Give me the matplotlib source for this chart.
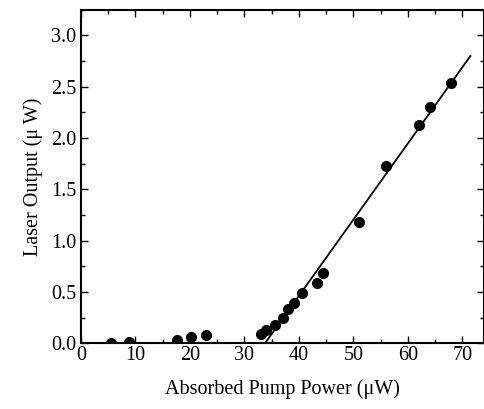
import matplotlib
matplotlib.use("Agg")
import matplotlib.pyplot as plt
from matplotlib.ticker import MultipleLocator, FormatStrFormatter

pump_power = [5.6, 8.9, 17.6, 20.2, 23.0, 33.0, 34.0, 35.7, 37.1, 38.0, 39.2,
              40.5, 43.3, 44.5, 51.1, 56.0, 62.1, 64.1, 67.9]
laser_out = [0.0, 0.01, 0.03, 0.06, 0.075, 0.09, 0.13, 0.18, 0.25, 0.33, 0.39,
             0.49, 0.59, 0.68, 1.18, 1.73, 2.13, 2.30, 2.54]

# linear fit above threshold (end points)
fit_x = [33.8, 71.5]
fit_y = [0.0, 2.80]

plt.rcParams['font.family'] = ['Liberation Serif', 'DejaVu Serif']

fig = plt.figure(figsize=(4.85, 4.09), dpi=100)
ax = fig.add_axes([0.167, 0.161, 0.831, 0.815])

ax.plot(fit_x, fit_y, color='black', linewidth=1.3)
ax.plot(pump_power, laser_out, 'o', color='black', markersize=7)

ax.set_xlim(0, 74)
ax.set_ylim(0, 3.25)
ax.xaxis.set_major_locator(MultipleLocator(10))
ax.xaxis.set_minor_locator(MultipleLocator(5))
ax.yaxis.set_major_locator(MultipleLocator(0.5))
ax.yaxis.set_minor_locator(MultipleLocator(0.25))
ax.yaxis.set_major_formatter(FormatStrFormatter('%.1f'))

ax.tick_params(which='both', direction='in', top=True, right=True, labelsize=14.5)
ax.tick_params(which='major', length=5, width=1)
ax.tick_params(which='minor', length=3, width=1)
ax.tick_params(axis='x', pad=2)
for s in ax.spines.values():
    s.set_linewidth(1.5)

ax.set_xlabel('Absorbed Pump Power (\u03bcW)', fontsize=14.5, labelpad=10)
ax.set_ylabel('Laser Output (\u03bc W)', fontsize=14.5, labelpad=6)

fig.savefig('out.png', dpi=100)
